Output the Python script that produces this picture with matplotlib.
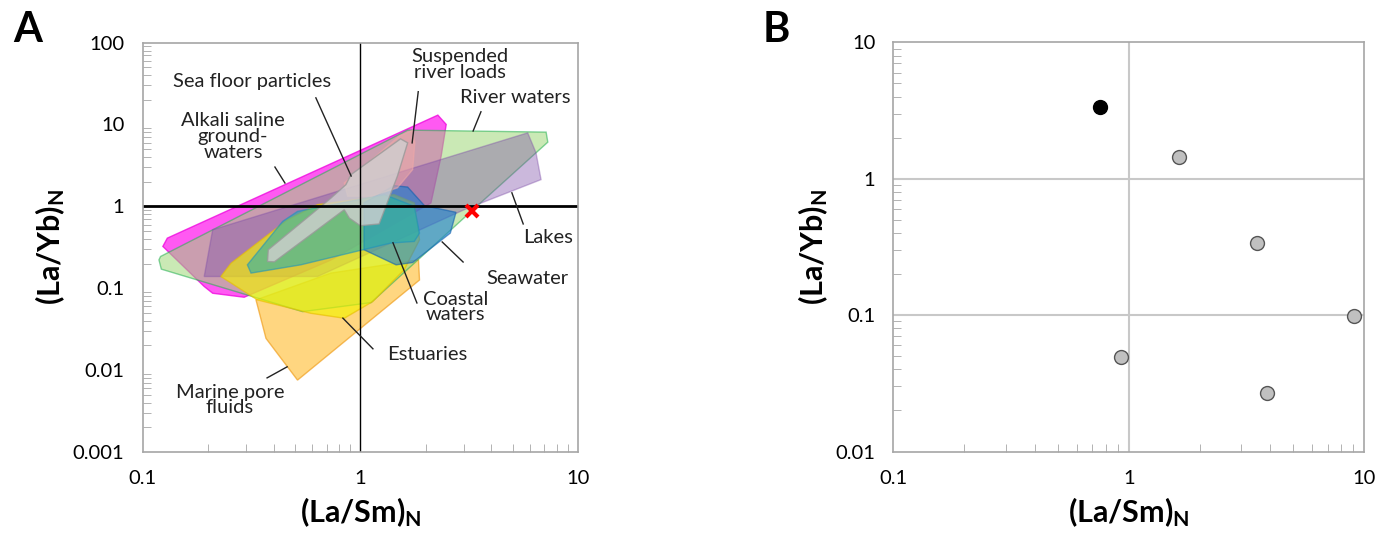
import matplotlib
matplotlib.use("Agg")
import matplotlib.pyplot as plt
from matplotlib.patches import Polygon

plt.rcParams['font.family'] = ['Lato', 'DejaVu Sans']
plt.rcParams['mathtext.fontset'] = 'custom'
plt.rcParams['mathtext.rm'] = 'Lato'
plt.rcParams['mathtext.bf'] = 'Lato:bold'

# Panel A: compositional fields, (La/Sm)N vs (La/Yb)N
marine_pore_x = [0.332, 0.369, 0.515, 1.87, 1.85, 0.733]
marine_pore_y = [0.072, 0.0244, 0.00755, 0.126, 0.222, 0.153]

alkali_x = [0.124, 0.130, 2.27, 2.48, 2.35, 2.11, 0.73, 0.293, 0.21, 0.192]
alkali_y = [0.324, 0.409, 13.0, 10.0, 4.1, 1.1, 0.22, 0.0776, 0.0868, 0.105]

river_x = [0.119, 0.122, 0.543, 1.12, 3.17, 7.26, 7.13, 1.65, 0.121]
river_y = [0.222, 0.171, 0.0518, 0.0667, 0.83, 6.08, 8.06, 8.53, 0.244]

lakes_x = [0.21, 0.192, 0.637, 3.0, 6.76, 6.41, 5.87]
lakes_y = [0.518, 0.139, 0.139, 0.91, 2.12, 4.5, 7.9]

estuary_x = [0.229, 0.255, 0.464, 0.637, 1.43, 1.77, 1.87, 1.59, 1.14, 0.844, 0.593, 0.337]
estuary_y = [0.139, 0.202, 0.687, 1.05, 1.39, 1.1, 0.391, 0.168, 0.0687, 0.043, 0.0494, 0.072]

seawater_x = [1.04, 1.43, 1.65, 1.97, 2.75, 2.59, 1.74, 1.46, 1.04]
seawater_y = [1.1, 1.79, 1.72, 1.02, 0.845, 0.471, 0.206, 0.193, 0.295]

coastal_x = [0.44, 0.515, 1.29, 1.77, 1.87, 1.77, 1.38, 0.533, 0.315, 0.303]
coastal_y = [0.655, 0.868, 1.39, 1.0, 0.471, 0.373, 0.356, 0.193, 0.153, 0.193]

susp_x = [0.844, 1.51, 1.74, 1.78, 1.74, 1.48, 1.12, 0.875]
susp_y = [1.93, 7.2, 8.5, 5.97, 2.81, 1.68, 1.33, 1.33]

seafloor_x = [0.375, 0.378, 0.733, 0.859, 0.906, 1.53, 1.65, 1.48, 1.22, 1.0, 0.89, 0.844, 0.403]
seafloor_y = [0.212, 0.295, 1.26, 1.84, 2.44, 6.67, 5.97, 2.33, 0.61, 0.58, 0.72, 0.91, 0.21]

cross_x = [3.25]
cross_y = [0.87]

# Panel B: samples
black_x = [0.758]
black_y = [3.33]
gray_x = [1.64, 3.52, 9.08, 0.927, 3.88]
gray_y = [1.45, 0.34, 0.0978, 0.049, 0.027]

fields = [
    (marine_pore_x, marine_pore_y, '#ffc54a', '#f0a020', 0.7),
    (alkali_x, alkali_y, '#ff22ee', '#ee00dd', 0.75),
    (river_x, river_y, '#9fd878', '#22b050', 0.55),
    (lakes_x, lakes_y, '#7e4ea8', '#7e4ea8', 0.4),
    (estuary_x, estuary_y, '#f4f200', '#e8c000', 0.65),
    (seawater_x, seawater_y, '#1a7ed0', '#1060b0', 0.6),
    (coastal_x, coastal_y, '#1cb0b4', '#1890c0', 0.55),
    (susp_x, susp_y, '#f0a8a8', '#f0a8a8', 0.55),
    (seafloor_x, seafloor_y, '#d0d0d0', '#999999', 0.8),
]

fig = plt.figure(figsize=(13.93, 5.43), dpi=100)
axA = fig.add_axes([0.1023, 0.1676, 0.3127, 0.7540])
axB = fig.add_axes([0.6414, 0.1685, 0.3378, 0.7536])

for ax in (axA, axB):
    ax.set_xscale('log')
    ax.set_yscale('log')
    for s in ax.spines.values():
        s.set_color('#a6a6a6')
        s.set_linewidth(1.2)
    ax.tick_params(which='both', direction='in', color='#a6a6a6', labelsize=14.5)
    ax.tick_params(which='major', length=0, pad=13)
    ax.tick_params(which='minor', length=6)
    ax.set_xlim(0.1, 10)
    ax.set_xticks([0.1, 1, 10])
    ax.set_xticklabels(['0.1', '1', '10'])

# ---- panel A
for fx, fy, fc, ec, al in fields:
    axA.add_patch(Polygon(list(zip(fx, fy)), closed=True, facecolor=fc,
                          edgecolor=ec, alpha=al, lw=1))

axA.axvline(1, color='black', lw=1)
axA.axhline(1, color='black', lw=2)
axA.plot(cross_x, cross_y, 'x', color='red', ms=9, mew=3, zorder=5)
axA.set_ylim(0.001, 100)
axA.set_yticks([0.001, 0.01, 0.1, 1, 10, 100])
axA.set_yticklabels(['0.001', '0.01', '0.1', '1', '10', '100'])

labels = [
    ('Sea floor particles', 0.251, 0.904),
    ('Suspended\nriver loads', 0.729, 0.946),
    ('River waters', 0.855, 0.867),
    ('Alkali saline\nground-\nwaters', 0.208, 0.770),
    ('Lakes', 0.931, 0.523),
    ('Seawater', 0.883, 0.423),
    ('Coastal\nwaters', 0.718, 0.354),
    ('Estuaries', 0.653, 0.237),
    ('Marine pore\nfluids', 0.201, 0.127),
]
for t, x, y in labels:
    axA.text(x, y, t, transform=axA.transAxes, ha='center', va='center',
             fontsize=14.5, linespacing=0.92, color='#222222')

leaders = [
    ((0.398, 0.479), (0.865, 0.674)),
    ((0.633, 0.619), (0.880, 0.755)),
    ((0.777, 0.759), (0.831, 0.784)),
    ((0.304, 0.327), (0.696, 0.657)),
    ((0.848, 0.874), (0.633, 0.557)),
    ((0.688, 0.736), (0.513, 0.464)),
    ((0.575, 0.630), (0.511, 0.364)),
    ((0.460, 0.529), (0.327, 0.252)),
    ((0.332, 0.286), (0.208, 0.181)),
]
for lx, ly in leaders:
    axA.plot(lx, ly, color='#222222', lw=1, transform=axA.transAxes)

axA.set_xlabel(r'$\mathbf{(La/Sm)_N}$', fontsize=22, labelpad=6)
axA.set_ylabel(r'$\mathbf{(La/Yb)_N}$', fontsize=22, labelpad=4)

# ---- panel B
axB.axvline(1, color='#c8c8c8', lw=1.5, zorder=1)
axB.axhline(1, color='#c8c8c8', lw=1.5, zorder=1)
axB.axhline(0.1, color='#c8c8c8', lw=1.5, zorder=1)
axB.plot(gray_x, gray_y, 'o', ms=10, mfc='#c0c0c0', mec='#555555', mew=1, ls='none', zorder=3)
axB.plot(black_x, black_y, 'o', ms=10, mfc='black', mec='black', ls='none', zorder=3)
axB.set_ylim(0.01, 10)
axB.set_yticks([0.01, 0.1, 1, 10])
axB.set_yticklabels(['0.01', '0.1', '1', '10'])
axB.set_xlabel(r'$\mathbf{(La/Sm)_N}$', fontsize=22, labelpad=6)
axB.set_ylabel(r'$\mathbf{(La/Yb)_N}$', fontsize=22, labelpad=4)

fig.text(0.020, 0.945, 'A', fontsize=30, fontweight='bold', ha='center', va='center')
fig.text(0.557, 0.945, 'B', fontsize=30, fontweight='bold', ha='center', va='center')

fig.savefig('out.png', dpi=100)
